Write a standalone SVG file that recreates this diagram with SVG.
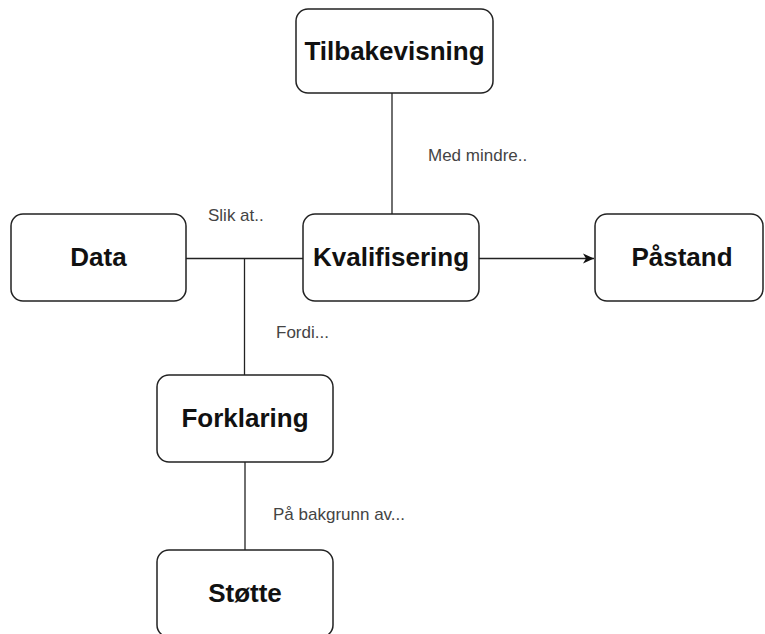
<svg xmlns="http://www.w3.org/2000/svg" width="765" height="634" viewBox="0 0 765 634">
<defs>
<style>
.box{fill:#fff;stroke:#222;stroke-width:1.5}
.t{font-family:"Liberation Sans",Arial,sans-serif;font-size:26px;font-weight:bold;fill:#111;text-anchor:middle}
.lbl{font-family:"Liberation Sans",Arial,sans-serif;font-size:17px;fill:#444}
.c{fill:none;stroke:#222;stroke-width:1.3}
</style>
<marker id="arr" markerWidth="12" markerHeight="12" refX="11" refY="6" orient="auto" markerUnits="userSpaceOnUse">
<path d="M0,1 L11,6 L0,11 L3,6 Z" fill="#111"/>
</marker>
</defs>
<rect width="765" height="634" fill="#fff"/>
<g id="connectors">
<line class="c" x1="392" y1="93" x2="392" y2="214"/>
<line class="c" x1="186" y1="258.5" x2="303" y2="258.5"/>
<line class="c" x1="244.5" y1="258.5" x2="244.5" y2="375"/>
<line class="c" x1="245" y1="462" x2="245" y2="550"/>
<line class="c" x1="479" y1="258.5" x2="594" y2="258.5" marker-end="url(#arr)"/>
<text class="lbl" x="208" y="221">Slik at..</text>
<text class="lbl" x="428" y="161">Med mindre..</text>
<text class="lbl" x="276" y="338">Fordi...</text>
<text class="lbl" x="273" y="520">På bakgrunn av...</text>
</g>
<g id="tilbakevisning">
<rect class="box" x="296" y="9" width="197" height="84" rx="12"/>
<text class="t" x="394.5" y="60">Tilbakevisning</text>
</g>
<g id="data">
<rect class="box" x="11" y="214" width="175" height="87" rx="12"/>
<text class="t" x="98.5" y="266">Data</text>
</g>
<g id="kvalifisering">
<rect class="box" x="303" y="214" width="176" height="87" rx="12"/>
<text class="t" x="391" y="266">Kvalifisering</text>
</g>
<g id="pastand">
<rect class="box" x="595" y="214" width="168" height="87" rx="12"/>
<text class="t" x="682" y="266">Påstand</text>
</g>
<g id="forklaring">
<rect class="box" x="157" y="375" width="176" height="87" rx="12"/>
<text class="t" x="245" y="427">Forklaring</text>
</g>
<g id="stotte">
<rect class="box" x="157" y="550" width="176" height="87" rx="12"/>
<text class="t" x="245" y="602">Støtte</text>
</g>
</svg>
